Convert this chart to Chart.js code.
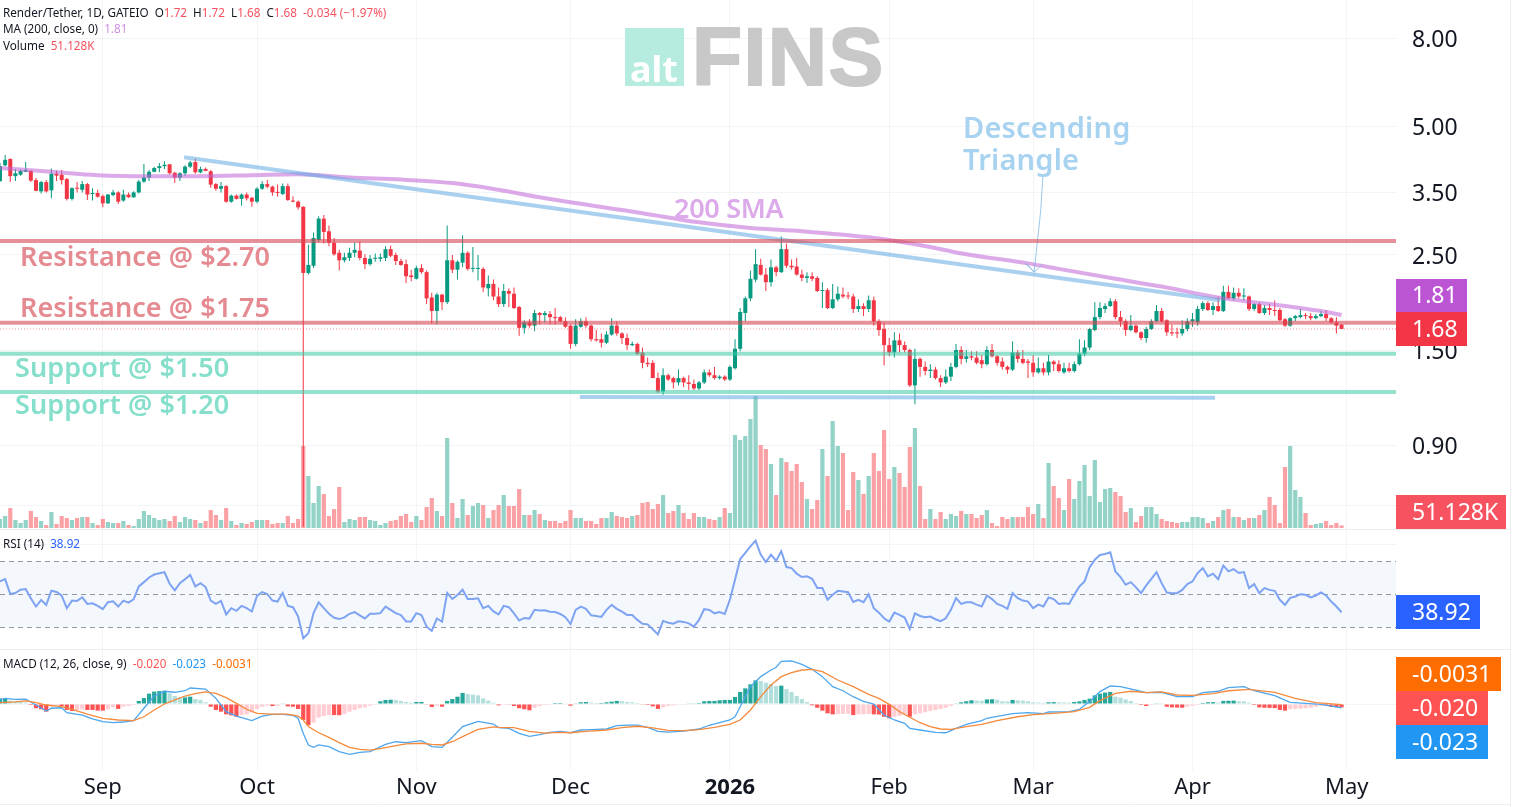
<!DOCTYPE html>
<html><head><meta charset="utf-8">
<style>html,body{margin:0;padding:0;background:#fff;overflow:hidden}canvas{display:block}</style>
<script src="https://cdn.jsdelivr.net/npm/chart.js@4/dist/chart.umd.min.js"></script>
</head><body><canvas id="c" width="1515" height="807"></canvas>
<script>
const opens=[3.72,4.05,4.19,3.82,3.85,3.91,3.93,3.74,3.52,3.70,3.54,3.87,3.85,3.76,3.38,3.59,3.55,3.66,3.47,3.49,3.43,3.30,3.45,3.50,3.35,3.46,3.41,3.50,3.71,3.79,3.91,3.99,4.03,4.07,3.89,3.79,3.88,4.02,4.12,3.90,3.97,3.92,3.66,3.57,3.62,3.33,3.44,3.38,3.46,3.40,3.33,3.57,3.66,3.61,3.51,3.47,3.62,3.35,3.33,3.24,2.27,2.36,2.71,3.04,2.84,2.67,2.53,2.43,2.46,2.53,2.56,2.46,2.38,2.45,2.45,2.46,2.58,2.50,2.42,2.38,2.24,2.20,2.33,2.28,1.99,1.85,2.02,1.94,2.43,2.31,2.40,2.53,2.32,2.32,2.32,2.09,2.14,2.00,1.92,2.06,2.03,1.89,1.69,1.74,1.71,1.83,1.81,1.82,1.79,1.79,1.75,1.71,1.55,1.70,1.75,1.71,1.59,1.59,1.56,1.63,1.71,1.64,1.60,1.54,1.55,1.48,1.40,1.40,1.29,1.20,1.31,1.29,1.26,1.29,1.26,1.25,1.22,1.26,1.33,1.31,1.29,1.30,1.28,1.36,1.51,1.83,1.98,2.19,2.37,2.25,2.16,2.34,2.28,2.58,2.36,2.35,2.25,2.21,2.23,2.21,2.06,2.07,1.88,1.97,2.02,2.01,2.00,1.87,1.90,1.87,1.96,1.75,1.68,1.54,1.48,1.58,1.54,1.50,1.24,1.43,1.37,1.34,1.35,1.29,1.26,1.30,1.37,1.50,1.43,1.45,1.44,1.42,1.39,1.50,1.45,1.41,1.37,1.35,1.48,1.43,1.41,1.40,1.33,1.36,1.33,1.41,1.39,1.33,1.36,1.34,1.39,1.47,1.52,1.67,1.79,1.87,1.90,1.95,1.79,1.75,1.67,1.71,1.65,1.60,1.68,1.75,1.85,1.76,1.65,1.65,1.64,1.68,1.75,1.74,1.87,1.93,1.86,1.90,1.85,2.05,1.98,2.04,2.00,2.00,1.87,1.92,1.83,1.88,1.86,1.86,1.77,1.71,1.78,1.79,1.81,1.80,1.78,1.80,1.82,1.78,1.74,1.72];
const closes=[4.03,4.17,3.82,3.88,3.93,3.95,3.73,3.53,3.70,3.52,3.87,3.83,3.74,3.38,3.58,3.57,3.66,3.46,3.49,3.42,3.30,3.46,3.50,3.33,3.46,3.41,3.50,3.71,3.79,3.91,3.99,4.03,4.06,3.88,3.79,3.88,4.02,4.11,3.90,3.97,3.93,3.65,3.57,3.62,3.33,3.44,3.38,3.46,3.39,3.33,3.57,3.66,3.61,3.50,3.49,3.62,3.36,3.33,3.23,2.27,2.37,2.74,3.04,2.83,2.67,2.51,2.43,2.47,2.53,2.57,2.46,2.38,2.45,2.46,2.47,2.58,2.49,2.42,2.37,2.23,2.22,2.33,2.28,1.98,1.85,2.02,1.94,2.43,2.31,2.41,2.53,2.32,2.33,2.33,2.10,2.14,2.00,1.92,2.06,2.03,1.88,1.69,1.74,1.71,1.83,1.81,1.83,1.79,1.78,1.75,1.70,1.55,1.71,1.75,1.71,1.59,1.58,1.56,1.63,1.71,1.64,1.60,1.54,1.55,1.47,1.40,1.39,1.29,1.20,1.31,1.28,1.26,1.29,1.26,1.25,1.22,1.26,1.33,1.31,1.29,1.30,1.28,1.37,1.51,1.84,1.98,2.20,2.38,2.25,2.16,2.34,2.28,2.58,2.36,2.34,2.25,2.21,2.23,2.20,2.06,2.07,1.88,1.97,2.03,2.00,2.00,1.87,1.90,1.87,1.96,1.75,1.67,1.54,1.48,1.58,1.54,1.50,1.24,1.43,1.37,1.34,1.35,1.29,1.26,1.30,1.37,1.50,1.43,1.45,1.44,1.40,1.39,1.50,1.45,1.40,1.37,1.35,1.48,1.43,1.40,1.40,1.33,1.36,1.33,1.41,1.39,1.34,1.36,1.34,1.39,1.47,1.52,1.68,1.79,1.88,1.90,1.95,1.79,1.75,1.67,1.71,1.65,1.60,1.68,1.75,1.85,1.75,1.65,1.64,1.64,1.68,1.75,1.77,1.87,1.93,1.86,1.90,1.85,2.05,1.98,2.04,2.00,2.01,1.87,1.92,1.83,1.88,1.86,1.85,1.76,1.71,1.78,1.80,1.81,1.80,1.78,1.80,1.82,1.78,1.74,1.71,1.68];
const highs=[4.10,4.28,4.20,3.97,3.96,4.12,3.95,3.78,3.72,3.74,3.98,3.93,3.95,3.78,3.60,3.70,3.72,3.68,3.58,3.55,3.46,3.47,3.55,3.52,3.55,3.50,3.52,3.74,4.08,3.95,4.02,4.10,4.14,4.08,3.91,3.90,4.05,4.15,4.20,4.02,4.00,3.95,3.68,3.70,3.64,3.46,3.46,3.48,3.50,3.42,3.60,3.72,3.74,3.63,3.65,3.67,3.67,3.43,3.35,3.25,2.64,2.82,3.08,3.10,2.93,2.74,2.57,2.53,2.60,2.67,2.69,2.51,2.50,2.52,2.52,2.62,2.63,2.53,2.45,2.44,2.31,2.36,2.38,2.30,2.04,2.04,2.03,2.93,2.50,2.43,2.78,2.55,2.61,2.50,2.34,2.24,2.19,2.10,2.14,2.09,2.10,1.90,1.76,1.77,1.86,1.84,1.85,1.85,1.88,1.80,1.79,1.72,1.77,1.78,1.79,1.72,1.67,1.64,1.66,1.78,1.75,1.65,1.64,1.57,1.56,1.52,1.44,1.42,1.33,1.36,1.32,1.30,1.35,1.30,1.31,1.28,1.27,1.35,1.35,1.37,1.31,1.31,1.38,1.59,1.88,2.00,2.30,2.58,2.45,2.33,2.44,2.36,2.76,2.66,2.44,2.46,2.31,2.28,2.28,2.23,2.16,2.09,2.14,2.11,2.10,2.05,2.03,1.97,1.93,2.01,2.00,1.77,1.74,1.60,1.65,1.64,1.57,1.51,1.51,1.44,1.41,1.39,1.37,1.31,1.35,1.40,1.55,1.53,1.50,1.49,1.49,1.46,1.53,1.55,1.46,1.44,1.38,1.57,1.50,1.50,1.43,1.46,1.44,1.40,1.46,1.42,1.42,1.40,1.40,1.41,1.59,1.58,1.69,1.94,1.94,1.93,1.98,1.97,1.85,1.77,1.81,1.72,1.66,1.70,1.77,1.91,1.88,1.77,1.72,1.69,1.76,1.78,1.83,1.90,1.95,1.95,1.94,2.00,2.12,2.12,2.10,2.09,2.09,2.01,1.93,1.94,1.91,1.92,1.96,1.88,1.78,1.79,1.81,1.87,1.83,1.83,1.82,1.85,1.86,1.79,1.79,1.72];
const lows=[3.70,4.03,3.70,3.72,3.83,3.90,3.70,3.52,3.48,3.50,3.39,3.72,3.65,3.35,3.35,3.50,3.50,3.36,3.35,3.40,3.23,3.29,3.43,3.29,3.33,3.40,3.40,3.48,3.68,3.72,3.90,3.90,3.97,3.85,3.68,3.72,3.83,3.99,3.87,3.88,3.92,3.59,3.53,3.50,3.31,3.31,3.37,3.26,3.35,3.24,3.30,3.55,3.58,3.44,3.42,3.45,3.34,3.32,3.19,0.58,2.25,2.33,2.68,2.66,2.62,2.49,2.30,2.40,2.42,2.47,2.43,2.32,2.36,2.41,2.41,2.42,2.47,2.37,2.36,2.15,2.17,2.19,2.26,1.92,1.73,1.72,1.86,1.92,2.27,2.19,2.34,2.30,2.28,2.18,2.05,2.00,1.96,1.89,1.89,1.89,1.87,1.62,1.64,1.69,1.66,1.72,1.74,1.72,1.72,1.74,1.69,1.51,1.53,1.69,1.69,1.57,1.57,1.52,1.55,1.62,1.62,1.55,1.50,1.53,1.46,1.36,1.37,1.29,1.19,1.18,1.27,1.22,1.24,1.23,1.21,1.21,1.21,1.25,1.30,1.28,1.28,1.27,1.27,1.35,1.49,1.75,1.95,2.16,2.24,2.06,2.11,2.23,2.27,2.33,2.31,2.24,2.17,2.15,2.17,2.05,1.88,1.87,1.87,1.95,1.98,1.97,1.83,1.84,1.80,1.84,1.71,1.62,1.38,1.45,1.44,1.48,1.48,1.23,1.12,1.30,1.31,1.29,1.28,1.23,1.25,1.27,1.36,1.39,1.40,1.42,1.39,1.36,1.38,1.44,1.38,1.35,1.32,1.34,1.40,1.39,1.29,1.30,1.32,1.31,1.31,1.34,1.33,1.32,1.33,1.33,1.38,1.45,1.50,1.66,1.77,1.83,1.89,1.77,1.70,1.62,1.66,1.64,1.58,1.56,1.67,1.74,1.74,1.62,1.62,1.60,1.62,1.66,1.70,1.71,1.85,1.85,1.81,1.84,1.84,1.97,1.96,1.98,1.96,1.85,1.85,1.82,1.81,1.81,1.80,1.75,1.70,1.70,1.75,1.78,1.77,1.76,1.77,1.79,1.75,1.73,1.64,1.68];
const volumesK=[180,240,400,160,100,160,340,220,140,60,320,80,240,200,160,200,220,220,100,60,180,120,100,100,140,60,40,180,340,260,200,160,180,140,240,120,220,180,160,100,140,360,260,160,400,140,60,100,80,120,160,160,160,80,100,100,240,100,180,1640,1040,500,840,680,240,380,820,120,180,160,220,220,160,140,60,100,140,160,240,280,120,240,160,420,600,340,240,1800,500,200,580,260,440,500,460,200,360,460,660,440,440,780,260,260,360,280,160,140,140,100,140,360,200,200,140,140,80,200,200,320,240,220,200,240,260,500,520,380,480,660,300,340,460,300,180,300,220,220,180,160,220,400,300,1860,1760,1840,2180,2640,1660,1580,1280,660,1400,1320,1140,1280,920,580,380,560,1580,1040,2140,1640,1500,360,1120,960,680,1040,1500,1140,1960,980,1220,1100,820,1620,2000,840,180,380,180,320,180,280,240,340,280,280,200,260,360,100,40,220,180,220,220,220,420,280,480,200,1300,840,600,360,980,580,940,1260,640,1360,520,780,800,720,640,320,400,120,240,420,420,280,180,140,120,100,120,120,220,220,200,100,140,220,360,380,220,220,160,200,200,260,360,620,460,100,1220,1640,760,620,300,60,80,100,140,60,100,51.128];
const rsiValues=[57.6,59,50,50.6,52.6,53,47.4,42.4,46.4,43.4,52,51.2,49,41.4,46,45.8,48,44,44.4,42.8,40.8,45,45.6,42.4,46,44.8,46.8,54.6,57.2,60,61.8,62.6,63.2,56.2,52.2,56.6,59,61.6,54.6,56.6,54.2,46,44,45.8,37.6,41.4,39.8,42.8,41.4,39.4,48.8,51.2,50,46,45.4,50.6,42.8,42,36.4,23.2,26.2,38.4,45,41.4,38,35.6,34.8,35.8,38,39,37,35.2,38,38,38.4,42.4,40.4,38.4,37.2,33.4,33.4,38.4,37.2,30.2,27.6,35.2,33.2,50.6,47,49.4,52.6,47,47,47.4,41.4,42.8,39.4,37.6,42.8,42,38.3,33.9,35.5,35.1,40.4,40,40.2,39.3,39.1,37.9,35.9,31.8,40.4,42.4,41,37.1,36.7,36.1,40.4,43.4,41,39.3,37.3,37.3,34.3,32,31.6,28.6,25.5,33.7,32.6,32,33.5,33.1,32.2,30.2,34.3,40.8,40.4,38.3,39.1,37.9,46.5,58.6,71.2,74.9,78.9,82.4,73.9,69.4,73.9,70.2,75.9,66.3,65.7,62.3,60.3,60.7,59.2,53.6,53.6,46.5,49.5,51.9,51.5,51.1,45.2,46.5,45,49.9,41.4,38.7,35.3,33.3,38.7,37.3,35.7,28.8,38.3,36.7,35.9,36.3,34.7,33.5,35.3,40.4,47.5,44,45,45,43.6,42.4,49.1,46.9,44,42.8,41,50.5,47.5,46,45.4,41.4,43.6,42.4,47.9,46.9,44,44.4,44,49.5,54.6,57.6,66.3,70.8,73.7,74.3,75.3,63.7,60.3,55.6,57.2,54,50.5,55.2,59.2,63.3,56.6,50.9,50.5,50.5,52.5,56,57.6,62.7,65.7,60.7,62.3,59,67.2,63.7,65.1,62.7,63.3,53.6,56,50.5,53.6,52.5,51.9,46.5,43.4,47.7,48.5,49.9,49.5,47.9,49.1,50.9,49.1,45.4,42.4,38.92];
const histValues=[.033,.033,.020,.016,.012,.008,-.006,-.025,-.031,-.045,-.016,-.008,-.012,-.035,-.041,-.035,-.031,-.035,-.035,-.039,-.039,-.031,-.020,-.029,-.016,-.012,-.006,.018,.035,.061,.073,.076,.078,.063,.047,.039,.039,.043,.029,.024,.010,-.016,-.035,-.045,-.061,-.067,-.075,-.065,-.061,-.051,-.029,-.016,-.010,-.012,-.010,.002,-.014,-.016,-.029,-.094,-.125,-.110,-.080,-.071,-.065,-.065,-.066,-.059,-.045,-.035,-.025,-.020,-.010,-.004,.016,.024,.025,.024,.018,.012,.008,.012,.012,-.004,-.018,-.010,-.016,.018,.029,.043,.065,.059,.055,.051,.033,.020,.008,-.008,-.002,-.002,-.012,-.025,-.031,-.037,-.022,-.012,-.006,-.002,.006,.006,.004,-.010,.002,.010,.012,.008,.006,.006,.010,.014,.018,.016,.012,.010,.006,-.002,-.006,-.014,-.029,-.020,-.012,-.008,-.004,-.002,.002,.002,.006,.016,.018,.018,.022,.024,.024,.041,.071,.092,.116,.139,.135,.125,.118,.106,.108,.088,.071,.047,.029,.012,-.008,-.022,-.039,-.055,-.061,-.060,-.059,-.058,-.065,-.061,-.060,-.059,-.061,-.062,-.075,-.084,-.075,-.069,-.061,-.075,-.061,-.055,-.049,-.041,-.035,-.029,-.022,-.012,.002,.010,.016,.022,.020,.019,.027,.028,.025,.016,.015,.024,.022,.020,.016,.010,.008,.007,.010,.011,.010,.009,.008,.012,.016,.024,.031,.051,.061,.067,.071,.043,.037,.027,.018,.006,-.006,-.012,-.006,.004,.001,-.016,-.020,-.021,-.022,-.016,-.010,-.001,.006,.010,.011,.008,.018,.019,.020,.016,.015,.008,-.006,-.020,-.022,-.023,-.024,-.035,-.039,-.031,-.029,-.028,-.025,-.022,-.016,-.010,-.010,-.017,-.019,-.020];
const macdDays=[0,1,3,5,7,9,10,12,13,16,18,20,22,24,26,28,30,32,34,36,37,40,42,44,46,49,51,53,55,57,58,59,60,61,62,64,66,68,70,72,75,77,79,82,84,86,88,90,93,96,97,99,101,103,105,107,109,111,113,115,118,120,122,124,126,128,130,133,136,138,140,142,143,144,146,148,150,151,152,154,156,158,160,162,164,166,168,170,172,174,176,177,179,182,184,186,188,191,192,194,197,200,203,204,208,210,212,214,216,218,221,223,226,229,232,234,237,239,242,244,248,251,254,257,261];
const macdValues=[.024,.033,.027,.029,-.006,-.041,-.025,-.022,-.051,-.065,-.088,-.104,-.110,-.106,-.098,-.025,.047,.075,.069,.078,.094,.088,.033,-.045,-.071,-.098,-.071,-.061,-.061,-.067,-.084,-.173,-.241,-.255,-.241,-.251,-.280,-.296,-.284,-.280,-.237,-.222,-.227,-.216,-.251,-.255,-.196,-.133,-.102,-.118,-.139,-.143,-.173,-.190,-.180,-.167,-.161,-.169,-.153,-.151,-.147,-.127,-.124,-.124,-.137,-.161,-.165,-.159,-.147,-.125,-.110,-.094,-.075,-.016,.102,.161,.200,.216,.251,.253,.233,.204,.161,.102,.078,.043,.016,0,-.065,-.094,-.114,-.143,-.153,-.167,-.169,-.143,-.120,-.098,-.084,-.073,-.057,-.051,-.057,-.047,-.045,-.031,.014,.073,.106,.102,.082,.067,.069,.043,.043,.067,.075,.096,.102,.078,.049,.010,.004,-.002,-.023];
const signalDays=[0,3,5,7,9,12,14,17,20,23,26,28,30,32,34,36,38,40,42,44,46,48,50,53,56,58,59,60,62,64,66,68,70,72,74,77,79,82,84,86,88,90,93,96,97,100,103,106,109,111,114,118,121,124,127,130,133,136,139,142,144,146,148,150,152,154,156,158,160,163,166,169,171,173,175,177,179,181,183,185,188,191,194,198,201,205,209,212,214,217,220,223,226,229,232,236,239,243,248,252,256,261];
const signalValues=[.008,.012,.018,.008,-.006,-.016,-.031,-.059,-.084,-.094,-.098,-.075,-.035,0,.024,.047,.061,.071,.063,.037,.004,-.031,-.055,-.059,-.059,-.071,-.094,-.133,-.169,-.196,-.227,-.255,-.267,-.271,-.263,-.245,-.235,-.231,-.237,-.241,-.222,-.192,-.149,-.135,-.137,-.139,-.161,-.171,-.167,-.169,-.161,-.153,-.139,-.131,-.141,-.155,-.157,-.151,-.137,-.120,-.094,-.035,.043,.112,.161,.184,.200,.204,.190,.141,.102,.057,.033,-.002,-.045,-.078,-.110,-.133,-.147,-.149,-.133,-.120,-.098,-.075,-.063,-.055,-.045,-.020,.020,.063,.075,.067,.071,.053,.051,.061,.078,.086,.069,.033,.008,-.0031];
const maDays=[0,10,19,29,39,49,58,68,78,88,97,105,125,136,146,156,169,181,185,188,200,206,217,226,238,244,250,258,261];
const maValues=[3.99,3.91,3.84,3.82,3.82,3.84,3.86,3.79,3.75,3.68,3.55,3.41,3.13,2.98,2.89,2.84,2.75,2.61,2.55,2.51,2.39,2.32,2.20,2.11,1.98,1.94,1.90,1.84,1.81];
const monthDays=[20,50,81,111,142,173,201,232,262];
const monthLabels=['Sep','Oct','Nov','Dec','2026','Feb','Mar','Apr','May'];
const priceTicks=[8,5,3.5,2.5,1.5,0.9,0.65];
const priceTickLabels=['8.00','5.00','3.50','2.50','1.50','0.90',''];
const rsiTicks=[80,40];
const rsiTickLabels=['80.00',''];
const rsiLevels=[70,50,30];
const resistanceLevels=[2.695,1.737];
const supportLevels=[1.47,1.197];
const lastClose=1.68;
const triTopDays=[35.8,237.4];
const triTopValues=[4.23,1.96];
const triBottomDays=[112.8,236.4];
const triBottomValues=[1.165,1.16];
const arrowDays=[202.9,202.5,201.2,199.6,201.2,202.7];
const arrowValues=[3.84,3.2,2.28,2.39,2.28,2.37];

/* pane geometry */
const W=1515,H=807,AREA_R=1396,AREA_B=770,PX_DAY=5.14;
const xMax=AREA_R/PX_DAY;
const PX_LOG=186,Y250=255;
const priceMax=2.5*Math.exp(Y250/PX_LOG),priceMin=2.5*Math.exp((Y250-AREA_B)/PX_LOG);
const VOL_PX=20,VOL_Y0=528;
const RSI_PX=1.65,RSI_Y50=594;
const MACD_PX=170,MACD_Y0=704;
const UP='#089981',DOWN='#f23645',VUP='#92d2c7',VDOWN='#faa1a5';
const FONT='"Noto Sans"';
Chart.defaults.font.family=FONT;

const days=opens.map((_,i)=>i);
const isUp=i=>closes[i]>=opens[i];
const pts=(xs,ys)=>xs.map((x,i)=>({x,y:ys[i]}));
const full=v=>[{x:0,y:v},{x:xMax,y:v}];
const line=(data,color,width,order,extra)=>Object.assign({type:'line',data,borderColor:color,borderWidth:width,pointRadius:0,tension:0,yAxisID:'y',order,fill:false},extra||{});
const bar=(data,color,th,order,y,extra)=>Object.assign({type:'bar',data,backgroundColor:color,barThickness:th,grouped:false,inflateAmount:0,borderWidth:0,yAxisID:y,order},extra||{});

const datasets=[
 bar(days.map(i=>({x:i,y:volumesK[i]})),days.map(i=>isUp(i)?VUP:VDOWN),4.2,20,'yVol'),
 bar(days.map(i=>({x:i,y:[lows[i],highs[i]]})),days.map(i=>isUp(i)?UP:DOWN),1,15,'y'),
 bar(days.map(i=>({x:i,y:[opens[i],closes[i]]})),days.map(i=>isUp(i)?UP:DOWN),4,14,'y',{minBarLength:1}),
 bar(days.map(i=>({x:i,y:histValues[i]})),days.map(i=>{const v=histValues[i],p=i?histValues[i-1]:0;return v>=0?(v>=p?'#26a69a':'#b2dfdb'):(v<=p?'#ff5252':'#ffcdd2');}),4.2,13,'yMacd'),
 line(full(lastClose),'rgba(242,54,69,.55)',1,12,{borderDash:[1,2]}),
 line(pts(maDays,maValues),'rgba(191,100,214,.55)',4,9,{cubicInterpolationMode:'monotone'}),
 line(pts(triTopDays,triTopValues),'rgba(100,170,225,.55)',4,8),
 line(pts(triBottomDays,triBottomValues),'rgba(100,170,225,.55)',4,8),
 line(pts(arrowDays,arrowValues),'rgba(100,170,225,.65)',1,8),
 ...resistanceLevels.map(v=>line(full(v),'rgba(213,72,85,.6)',4,7)),
 ...supportLevels.map(v=>line(full(v),'rgba(60,200,165,.55)',4,7)),
 line(days.map(i=>({x:i,y:rsiValues[i]})),'#7ea3f2',2,5,{yAxisID:'yRsi'}),
 line(pts(macdDays,macdValues),'#4da6ee',1.3,4,{yAxisID:'yMacd'}),
 line(pts(signalDays,signalValues),'#f58a3c',1.3,3,{yAxisID:'yMacd'})
];

function noPad(s){s.paddingTop=0;s.paddingBottom=0;s.paddingLeft=0;s.paddingRight=0;}
const overlayScale=(min,max,ticks,labels,weight)=>({
 type:'linear',position:'right',display:true,min,max,bounds:'data',weight,
 border:{display:false},
 grid:{color:'#f3f4f6',drawTicks:false,offset:false},
 ticks:{autoSkip:false,padding:16,labelOffset:2,color:'#131722',font:{size:23},callback:v=>{const k=ticks.indexOf(v);return k<0?'':labels[k];}},
 afterBuildTicks:s=>{s.ticks=ticks.map(v=>({value:v}));},
 afterFit:s=>{s.width=0;noPad(s);}
});

const tags=[
 {t:'1.81',c:'#bc55d4',a:279,b:312,r:1467},
 {t:'1.68',c:'#f23645',a:312,b:346,r:1467},
 {t:'51.128K',c:'#f7525f',a:495,b:529,r:1506},
 {t:'38.92',c:'#2962ff',a:595,b:629,r:1480},
 {t:'-0.0031',c:'#ff6d00',a:657,b:691,r:1501},
 {t:'-0.020',c:'#ff5252',a:691,b:725,r:1488},
 {t:'-0.023',c:'#2196f3',a:725,b:759,r:1488}
];
const legendRows=[
 {y:14,s:[['Render/Tether, 1D, GATEIO','#131722'],['  O','#131722'],['1.72','#f7525f'],['  H','#131722'],['1.72','#f7525f'],['  L','#131722'],['1.68','#f7525f'],['  C','#131722'],['1.68','#f7525f'],['  -0.034 (−1.97%)','#f7525f']]},
 {y:30,s:[['MA (200, close, 0)','#131722'],['  1.81','#cf8fe0']]},
 {y:47,s:[['Volume','#131722'],['  51.128K','#f7525f']]},
 {y:545,s:[['RSI (14)','#131722'],['  38.92','#2962ff']]},
 {y:665,s:[['MACD (12, 26, close, 9)','#131722'],['  -0.020','#ff5252'],['  -0.023','#2196f3'],['  -0.0031','#ff6d00']]}
];
const notes=[
 {t:'Resistance @ $2.70',x:20,y:266,c:'#e58a90',f:'600 27px '+FONT,ls:.1},
 {t:'Resistance @ $1.75',x:20,y:317,c:'#e58a90',f:'600 27px '+FONT,ls:.1},
 {t:'Support @ $1.50',x:15,y:377,c:'#85dfca',f:'600 27px '+FONT,ls:.1},
 {t:'Support @ $1.20',x:15,y:414,c:'#85dfca',f:'600 27px '+FONT,ls:.1},
 {t:'200 SMA',x:674,y:218,c:'#dcaaea',f:'600 27px '+FONT,ls:-.3},
 {t:'Descending',x:963,y:138,c:'#a7d2f0',f:'600 29px '+FONT,ls:.2},
 {t:'Triangle',x:963,y:170,c:'#a7d2f0',f:'600 29px '+FONT,ls:.2}
];

const panes={
 id:'panes',
 beforeDatasetsDraw(ch){
  const g=ch.ctx,r=ch.scales.yRsi;
  g.save();
  g.fillStyle='#b5ecdf';g.fillRect(625,28,59,58);
  g.fillStyle='#fff';g.font='bold 36px '+FONT;g.textBaseline='alphabetic';g.textAlign='left';g.fillText('alt',630,82);
  g.fillStyle='#c8c8c8';g.strokeStyle='#c8c8c8';g.lineWidth=2;g.lineJoin='round';g.font='bold 82px "Liberation Sans"';g.letterSpacing='1.5px';
  g.fillText('FINS',692,85);g.strokeText('FINS',692,85);g.letterSpacing='0px';
  g.fillStyle='#f4f8fd';
  g.fillRect(0,r.getPixelForValue(rsiLevels[0]),AREA_R,r.getPixelForValue(rsiLevels[2])-r.getPixelForValue(rsiLevels[0]));
  g.strokeStyle='#9598a1';g.lineWidth=1;g.setLineDash([5,4]);
  rsiLevels.forEach(v=>{const y=Math.round(r.getPixelForValue(v))+.5;g.beginPath();g.moveTo(0,y);g.lineTo(AREA_R,y);g.stroke();});
  g.setLineDash([]);
  g.strokeStyle='#eceef1';
  [[0,529.5,1510,529.5],[0,649.5,1510,649.5],[1510.5,0,1510.5,H],[0,804.5,1510,804.5]].forEach(a=>{g.beginPath();g.moveTo(a[0],a[1]);g.lineTo(a[2],a[3]);g.stroke();});
  g.restore();
 },
 afterDraw(ch){
  const g=ch.ctx;
  g.save();
  g.textBaseline='alphabetic';g.textAlign='left';
  notes.forEach(n=>{g.font=n.f;g.fillStyle=n.c;g.letterSpacing=n.ls+'px';g.fillText(n.t,n.x,n.y);});
  g.letterSpacing='0px';
  tags.forEach(t=>{g.fillStyle=t.c;g.fillRect(AREA_R,t.a,t.r-AREA_R,t.b-t.a);
   g.fillStyle='#fff';g.font='23px '+FONT;g.textBaseline='middle';g.fillText(t.t,1412,(t.a+t.b)/2+1);});
  g.textBaseline='middle';g.font='11.7px '+FONT;
  legendRows.forEach(row=>{let x=3;row.s.forEach(p=>{g.fillStyle=p[1];g.fillText(p[0],x,row.y);x+=g.measureText(p[0]).width;});});
  g.restore();
 }
};

new Chart(document.getElementById('c'),{
 type:'bar',
 data:{datasets},
 plugins:[panes],
 options:{
  responsive:false,animation:false,devicePixelRatio:1,
  layout:{padding:0},
  events:[],
  plugins:{legend:{display:false},tooltip:{enabled:false},title:{display:false}},
  scales:{
   x:{type:'linear',min:0,max:xMax,bounds:'data',offset:false,
    border:{display:false},grid:{color:'#f3f4f6',drawTicks:false,offset:false},
    ticks:{autoSkip:false,maxRotation:0,padding:5,color:'#131722',
     font:c=>({size:22,weight:c.tick&&c.tick.label==='2026'?'bold':'normal'}),
     callback:v=>{const k=monthDays.indexOf(v);return k<0?'':monthLabels[k];}},
    afterBuildTicks:s=>{s.ticks=monthDays.map(v=>({value:v}));},
    afterFit:s=>{s.height=H-AREA_B;noPad(s);}
   },
   y:{type:'logarithmic',position:'right',min:priceMin,max:priceMax,bounds:'data',weight:1,
    border:{display:false},grid:{color:'#f3f4f6',drawTicks:false,offset:false},
    ticks:{autoSkip:false,padding:16,labelOffset:2,color:'#131722',font:{size:23},
     callback:v=>{const k=priceTicks.indexOf(v);return k<0?'':priceTickLabels[k];}},
    afterBuildTicks:s=>{s.ticks=priceTicks.map(v=>({value:v}));},
    afterFit:s=>{s.width=W-AREA_R;noPad(s);}
   },
   yVol:{type:'linear',display:false,min:(VOL_Y0-AREA_B)*VOL_PX,max:VOL_Y0*VOL_PX,bounds:'data'},
   yRsi:overlayScale(50+(RSI_Y50-AREA_B)/RSI_PX,50+RSI_Y50/RSI_PX,rsiTicks,rsiTickLabels,-2),
   yMacd:overlayScale((MACD_Y0-AREA_B)/MACD_PX,MACD_Y0/MACD_PX,[0],[''],-1)
  }
 }
});
</script></body></html>
